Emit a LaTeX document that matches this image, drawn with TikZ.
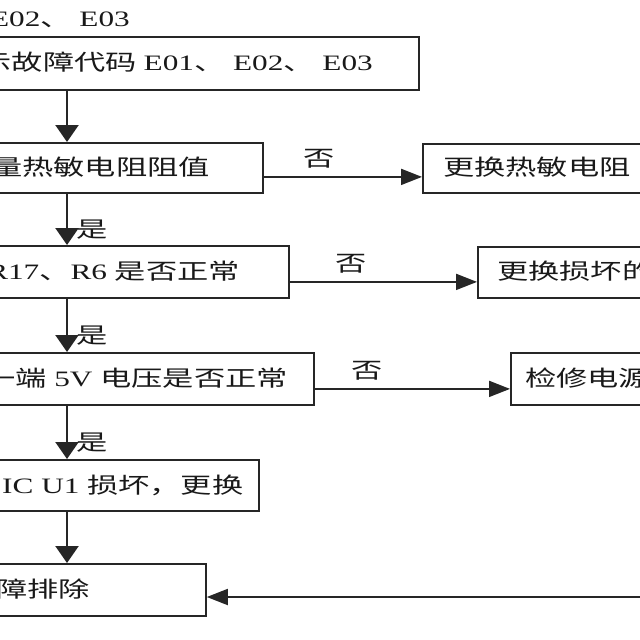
\documentclass[tikz,border=0pt]{standalone}
\usepackage{fontspec}
\setmainfont{Liberation Serif}[FakeStretch=1.42]
\newfontfamily\cjk{Noto Sans CJK SC}[FakeStretch=1.42]
\newcommand\zh[1]{{\cjk #1}}
\usetikzlibrary{arrows.meta}
\begin{document}
\begin{tikzpicture}[x=1pt,y=-1pt,
  box/.style={draw=black!85, line width=1.8pt, inner sep=0pt, anchor=north west},
  txt/.style={inner sep=0pt, font=\fontsize{22}{25}\selectfont, text=black!90},
  varr/.style={draw=black!85, line width=2.2pt, -{Triangle[length=17pt,width=23pt]}},
  harr/.style={draw=black!85, line width=1.8pt, -{Triangle[length=21pt,width=16pt]}}]
\useasboundingbox (0,0) rectangle (640,640);
\fill[white] (0,0) rectangle (640,640);
\clip (0,0) rectangle (640,640);
\coordinate (c) at (67,0);
% left column boxes
\node[box, minimum width=438pt, minimum height=53pt] (b1) at (-20,36) {};
\node[box, minimum width=282pt, minimum height=50pt] (b2) at (-20,142) {};
\node[box, minimum width=308pt, minimum height=52pt] (b3) at (-20,245) {};
\node[box, minimum width=333pt, minimum height=52pt] (b4) at (-20,352) {};
\node[box, minimum width=278pt, minimum height=51pt] (b5) at (-20,459) {};
\node[box, minimum width=225pt, minimum height=52pt] (b6) at (-20,563) {};
% right column boxes
\node[box, minimum width=240pt, minimum height=49pt] (r2) at (422,143) {};
\node[box, minimum width=190pt, minimum height=51pt] (r3) at (477,246) {};
\node[box, minimum width=160pt, minimum height=52pt] (r4) at (510,352) {};
\coordinate (rin) at (680,597);
\coordinate (p2) at ([yshift=-9pt]b2.east);
\coordinate (p3) at ([yshift=-10pt]b3.east);
\coordinate (p4) at ([yshift=-10pt]b4.east);
% texts
\node[txt, anchor=east] (t0) at (130,19) {\zh{码 }E01\zh{、} E02\zh{、} E03};
\node[txt, anchor=east] (t1) at (373,62) {\zh{显示故障代码 }E01\zh{、} E02\zh{、} E03};
\node[txt, anchor=east] (t2) at (210,167) {\zh{测量热敏电阻阻值}};
\node[txt, anchor=east] (t3) at (240,271) {R17\zh{、}R6 \zh{是否正常}};
\node[txt, anchor=east] (t4) at (288,378) {\zh{一端} 5V \zh{电压是否正常}};
\node[txt, anchor=west] (t5) at (2,485) {IC U1 \zh{损坏，更换}};
\node[txt, anchor=east] (t6) at (90,589) {\zh{故障排除}};
\node[txt, anchor=west] (u2) at (443,167) {\zh{更换热敏电阻}};
\node[txt, anchor=west] (u3) at (497,271) {\zh{更换损坏的元件}};
\node[txt, anchor=west] (u4) at (525,378) {\zh{检修电源}};
% connectors
\draw[varr] (b1.south -| c) -- (b2.north -| c);
\draw[varr] (b2.south -| c) -- node[txt, anchor=west, pos=0.7, xshift=8pt] (y2) {\zh{是}} (b3.north -| c);
\draw[varr] (b3.south -| c) -- node[txt, anchor=west, pos=0.7, xshift=8pt] (y3) {\zh{是}} (b4.north -| c);
\draw[varr] (b4.south -| c) -- node[txt, anchor=west, pos=0.7, xshift=8pt] (y4) {\zh{是}} (b5.north -| c);
\draw[varr] (b5.south -| c) -- (b6.north -| c);
\draw[harr] (p2) -- node[txt, above=8pt, pos=0.35] (n2) {\zh{否}} (r2.west |- p2);
\draw[harr] (p3) -- node[txt, above=8pt, pos=0.33] (n3) {\zh{否}} (r3.west |- p3);
\draw[harr] (p4) -- node[txt, above=8pt, pos=0.27] (n4) {\zh{否}} (r4.west |- p4);
\draw[harr] (rin) -- (b6.east |- rin);
\end{tikzpicture}
\end{document}
